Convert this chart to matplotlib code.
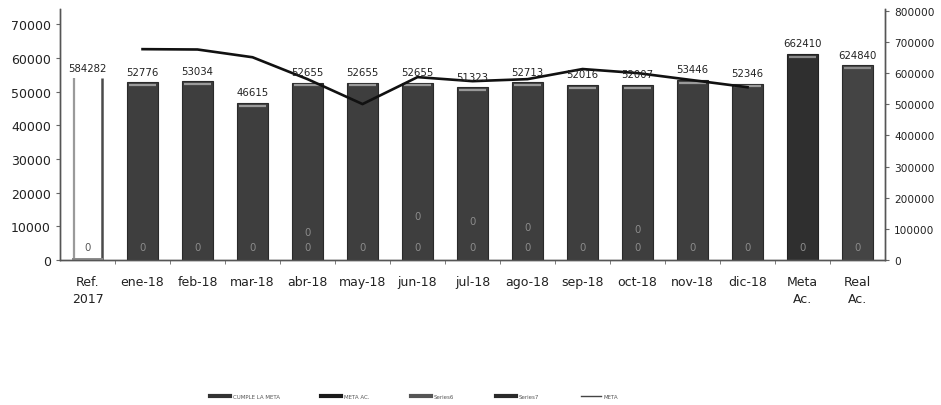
import numpy as np
import matplotlib.pyplot as plt
from matplotlib.lines import Line2D

# categories
cats = ['Ref.\n2017', 'ene-18', 'feb-18', 'mar-18', 'abr-18', 'may-18', 'jun-18',
        'jul-18', 'ago-18', 'sep-18', 'oct-18', 'nov-18', 'dic-18', 'Meta\nAc.', 'Real\nAc.']
months = cats[1:13]

# monthly real values (left axis)
cumple = [52776, 53034, 46615, 52655, 52655, 52655, 51323, 52713, 52016, 52007, 53446, 52346]
# monthly META line (left axis)
meta = [62600, 62500, 60200, 53700, 46300, 54300, 53100, 53700, 56700, 55500, 53400, 51300]
# accumulated values (right axis)
ref2017 = 584282
meta_ac = 662410
real_ac = 624840

# the zero labels Excel left on the chart
zero_extra = {'abr-18': 8300, 'jun-18': 13000, 'jul-18': 11600, 'ago-18': 9800, 'oct-18': 9200}

plt.rcParams['font.family'] = 'DejaVu Sans'
fig = plt.figure(figsize=(9.41, 4.06), dpi=100)
ax = fig.add_axes([0.0638, 0.357, 0.8767, 0.6182])
ax2 = ax.twinx()

x = np.arange(len(cats))
xm = x[1:13]
w = 0.55
ylim1 = 74500
ylim2 = 806000

ax.bar(xm, cumple, w, color='#3e3e3e', edgecolor='#2a2a2a', linewidth=0.8, zorder=2)
ax.hlines(np.array(cumple) - 0.011 * ylim1, xm - w / 2 + 0.03, xm + w / 2 - 0.03,
          color='#9a9a9a', linewidth=1.6, zorder=3)

acc_x = [0, 13, 14]
acc_v = [ref2017, meta_ac, real_ac]
# Ref. 2017: open bar, only the sides and the base are drawn
ax2.bar([0], [ref2017], w, color='white', linewidth=0, zorder=2)
ax2.vlines([-w / 2 + 0.02], 0, ref2017, color='#9a9a9a', linewidth=1.6, zorder=3)
ax2.vlines([w / 2 - 0.02], 0, ref2017, color='#4a4a4a', linewidth=1.8, zorder=3)
ax2.hlines([0.006 * ylim2], -w / 2, w / 2, color='#8a8a8a', linewidth=1.4, zorder=3)
ax2.bar([13], [meta_ac], w, color='#2f2f2f', edgecolor='#222222', linewidth=0.8, zorder=2)
ax2.bar([14], [real_ac], w, color='#444444', edgecolor='#2a2a2a', linewidth=0.8, zorder=2)
ax2.hlines(np.array([meta_ac, real_ac]) - 0.011 * ylim2, np.array([13, 14]) - w / 2 + 0.03,
           np.array([13, 14]) + w / 2 - 0.03, color='#8a8a8a', linewidth=1.6, zorder=3)

ax.plot(xm, meta, color='#111111', linewidth=1.9, zorder=4)

# value labels
for xi, v in zip(xm, cumple):
    ax.annotate(str(v), (xi, v), xytext=(0, 4), textcoords='offset points',
                ha='center', va='bottom', fontsize=7.3, color='#222222', zorder=5)
for xi, v in zip(acc_x, acc_v):
    ax2.annotate(str(v), (xi, v), xytext=(0, 4), textcoords='offset points',
                 ha='center', va='bottom', fontsize=7.3, color='#222222', zorder=5)

# zero labels
for xi in x:
    c = '#555555' if xi == 0 else '#8c8c8c'
    ax.text(xi, 3800, '0', ha='center', va='center', fontsize=7.3, color=c, zorder=5)
for m, yv in zero_extra.items():
    ax.text(months.index(m) + 1, yv, '0', ha='center', va='center', fontsize=7.3,
            color='#8c8c8c', zorder=5)

ax.set_xlim(-0.5, 14.5)
ax.set_ylim(0, ylim1)
ax2.set_ylim(0, ylim2)
ax.set_yticks(np.arange(0, 70001, 10000))
ax2.set_yticks(np.arange(0, 800001, 100000))
ax.set_xticks(x)
ax.set_xticklabels(cats, fontsize=9, linespacing=1.4, color='#222222')
ax.set_xticks(np.arange(0.5, 14, 1), minor=True)
ax.tick_params(axis='x', which='major', length=0, pad=11)
ax.tick_params(axis='x', which='minor', length=3, color='#666666')
ax.tick_params(axis='y', labelsize=9, length=3, color='#666666', labelcolor='#222222')
ax2.tick_params(axis='y', labelsize=7.6, length=3, color='#666666', labelcolor='#222222')

for a in (ax, ax2):
    a.spines['top'].set_visible(False)
    for s in ('left', 'right', 'bottom'):
        a.spines[s].set_color('#555555')
        a.spines[s].set_linewidth(1.0)
ax.set_zorder(ax2.get_zorder() + 1)
ax.patch.set_visible(False)

handles = [Line2D([], [], color='#333333', linewidth=3),
           Line2D([], [], color='#1a1a1a', linewidth=3),
           Line2D([], [], color='#555555', linewidth=3),
           Line2D([], [], color='#2a2a2a', linewidth=3),
           Line2D([], [], color='#444444', linewidth=1)]
labels = ['CUMPLE LA META', 'META AC.', 'Series6', 'Series7', 'META']
fig.legend(handles, labels, loc='center', bbox_to_anchor=(0.44, 0.022), ncol=5,
           fontsize=4, frameon=False, handlelength=3.6, columnspacing=7.5,
           handletextpad=0.5, labelcolor='#555555')

fig.savefig('out.png', dpi=100, facecolor='white')
